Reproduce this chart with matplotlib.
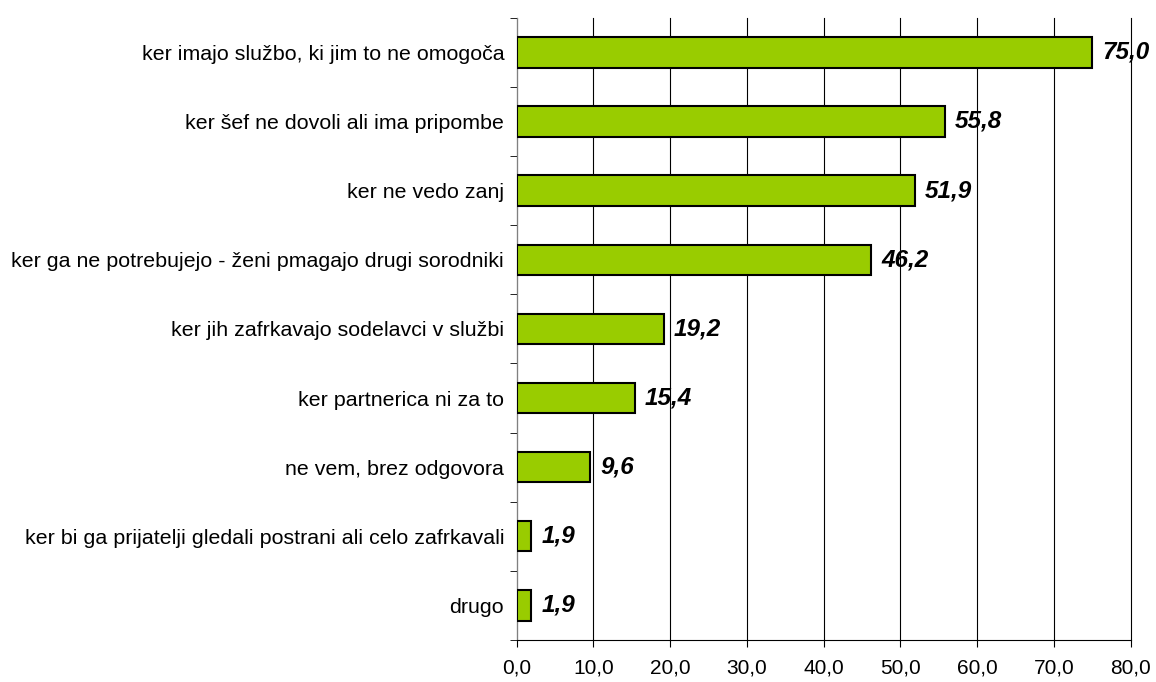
import numpy as np
import matplotlib
matplotlib.use('Agg')
import matplotlib.pyplot as plt

plt.rcParams['font.family'] = ['Liberation Sans', 'DejaVu Sans']

# data, top to bottom as in the picture
categories = ['ker imajo službo, ki jim to ne omogoča',
              'ker šef ne dovoli ali ima pripombe',
              'ker ne vedo zanj',
              'ker ga ne potrebujejo - ženi pmagajo drugi sorodniki',
              'ker jih zafrkavajo sodelavci v službi',
              'ker partnerica ni za to',
              'ne vem, brez odgovora',
              'ker bi ga prijatelji gledali postrani ali celo zafrkavali',
              'drugo']
values = [75.0, 55.8, 51.9, 46.2, 19.2, 15.4, 9.6, 1.9, 1.9]
xticks = [0, 10, 20, 30, 40, 50, 60, 70, 80]

fig = plt.figure(figsize=(11.56, 6.82), dpi=100)
ax = fig.add_axes([0.447, 0.0616, 0.531, 0.9124])

y = np.arange(len(categories))[::-1]
ax.barh(y, values, height=0.44, color='#99CC00', edgecolor='black', linewidth=1.5, zorder=3)

for yi, v in zip(y, values):
    ax.text(v + 1.3, yi, f'{v:.1f}'.replace('.', ','), va='center', ha='left',
            fontsize=17.5, fontweight='bold', fontstyle='italic', zorder=2)

ax.set_xlim(0, 80)
ax.set_ylim(-0.5, len(categories) - 0.5)
ax.set_xticks(xticks)
ax.set_xticklabels([f'{t:.1f}'.replace('.', ',') for t in xticks], fontsize=15)
ax.set_yticks(y)
ax.set_yticklabels(categories, fontsize=15.4)
ax.tick_params(axis='y', length=0, pad=9)
ax.set_yticks(np.arange(-0.5, len(categories)), minor=True)
ax.tick_params(axis='y', which='minor', length=5, direction='out', color='black')
ax.tick_params(axis='x', length=5, direction='out', pad=8)

ax.grid(axis='x', color='black', linewidth=0.8, zorder=2.5, clip_on=False)
ax.spines['top'].set_visible(False)
ax.spines['right'].set_visible(False)
ax.spines['left'].set_color('#808080')
ax.spines['bottom'].set_color('black')

fig.savefig('out.png', dpi=100)
